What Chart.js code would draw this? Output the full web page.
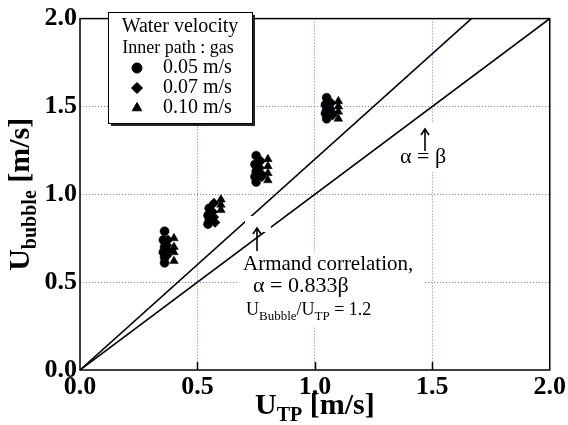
<!DOCTYPE html>
<html>
<head>
<meta charset="utf-8">
<script src="https://cdn.jsdelivr.net/npm/chart.js@4.4.0/dist/chart.umd.min.js"></script>
<style>
  html, body { margin: 0; padding: 0; background: #fff; }
  #wrap { width: 568px; height: 425px; }
</style>
</head>
<body>
<div id="wrap"><canvas id="chart" width="568" height="425"></canvas></div>
<script>
const SERIF = "'Liberation Serif', 'DejaVu Serif', serif";

// Inner path : gas -- measured [U_TP, U_bubble] pairs per water velocity
const gas005 = [
  [0.36, 0.79], [0.355, 0.74], [0.36, 0.70], [0.355, 0.67], [0.36, 0.64], [0.36, 0.61],
  [0.55, 0.92], [0.545, 0.88], [0.55, 0.85], [0.545, 0.83],
  [0.75, 1.22], [0.745, 1.17], [0.75, 1.13], [0.745, 1.10], [0.75, 1.07],
  [1.05, 1.55], [1.045, 1.51], [1.05, 1.48], [1.045, 1.46], [1.05, 1.43]
];
const gas007 = [
  [0.375, 0.74], [0.37, 0.71], [0.375, 0.68], [0.37, 0.65],
  [0.57, 0.95], [0.565, 0.90], [0.57, 0.87], [0.575, 0.84],
  [0.77, 1.19], [0.765, 1.15], [0.77, 1.12], [0.775, 1.10],
  [1.07, 1.52], [1.065, 1.49], [1.07, 1.47], [1.075, 1.45]
];
const gas010 = [
  [0.40, 0.75], [0.40, 0.70], [0.40, 0.67], [0.40, 0.62],
  [0.60, 0.97], [0.60, 0.94], [0.60, 0.91],
  [0.80, 1.20], [0.80, 1.16], [0.80, 1.12], [0.80, 1.08],
  [1.10, 1.53], [1.10, 1.50], [1.10, 1.47], [1.10, 1.43]
];

const seriesLabels = ['0.05 m/s', '0.07 m/s', '0.10 m/s'];
const seriesStyles = ['circle', 'rectRot', 'triangle'];
const seriesRadius = [4.5, 5, 5];

const axisMin = 0;
const axisMax = 2.0;
const tickStep = 0.5;
const armandRatio = 1.2;          // U_Bubble / U_TP
const lineX = [0, axisMax];

const toPoints = arr => arr.map(p => ({ x: p[0], y: p[1] }));
const alphaEqBeta = lineX.map(x => ({ x: x, y: x }));
const armandLine = lineX.map(x => ({ x: x, y: x * armandRatio }));

const gridColor = ctx => {
  const v = ctx.tick ? ctx.tick.value : null;
  return (v === axisMin || v === axisMax) ? 'rgba(0,0,0,0)' : 'rgba(80,80,255,0.8)';
};

function drawArrow(ctx, x, yTail, yHead) {
  ctx.save();
  ctx.strokeStyle = '#000';
  ctx.lineWidth = 1.6;
  ctx.beginPath();
  ctx.moveTo(x, yTail);
  ctx.lineTo(x, yHead);
  ctx.moveTo(x - 4, yHead + 6);
  ctx.lineTo(x, yHead);
  ctx.lineTo(x + 4, yHead + 6);
  ctx.stroke();
  ctx.restore();
}

// text runs: [string, size, baselineShift]
function drawRuns(ctx, runs, x, y, weight) {
  let cx = x;
  runs.forEach(r => {
    ctx.font = `${weight} ${r[1]}px ${SERIF}`;
    ctx.fillText(r[0], cx, y + r[2]);
    cx += ctx.measureText(r[0]).width;
  });
  return cx - x;
}

function runsWidth(ctx, runs, weight) {
  let w = 0;
  runs.forEach(r => {
    ctx.font = `${weight} ${r[1]}px ${SERIF}`;
    w += ctx.measureText(r[0]).width;
  });
  return w;
}

const annotations = {
  id: 'annotations',
  beforeDatasetsDraw(chart) {
    const ctx = chart.ctx;
    ctx.save();
    ctx.fillStyle = '#fff';
    // label backgrounds hide the grid behind the text
    ctx.fillRect(237, 253, 186, 74);
    ctx.fillRect(398, 123, 56, 49);
    ctx.restore();
  },
  afterDatasetsDraw(chart) {
    const ctx = chart.ctx;
    const a = chart.chartArea;
    const xs = chart.scales.x;
    ctx.save();

    // white box behind the Armand arrow
    ctx.fillStyle = '#fff';
    ctx.fillRect(245, 216, 26, 16);

    // plot frame and inward ticks
    ctx.strokeStyle = '#000';
    ctx.lineWidth = 1.5;
    ctx.strokeRect(a.left, a.top, a.right - a.left, a.bottom - a.top);
    ctx.beginPath();
    for (let v = axisMin + tickStep; v < axisMax; v += tickStep) {
      const px = Math.round(xs.getPixelForValue(v)) + 0.5;
      ctx.moveTo(px, a.bottom);
      ctx.lineTo(px, a.bottom - 8);
    }
    ctx.stroke();

    // arrows
    drawArrow(ctx, 425, 151, 129);
    drawArrow(ctx, 257, 251, 228);

    ctx.fillStyle = '#000';
    ctx.textBaseline = 'alphabetic';
    ctx.textAlign = 'left';

    ctx.font = `22px ${SERIF}`;
    ctx.fillText('α = β', 400, 163);

    ctx.font = `21px ${SERIF}`;
    ctx.fillText('Armand correlation,', 243, 270);
    ctx.font = `22px ${SERIF}`;
    ctx.fillText('α = 0.833β', 253, 292);
    drawRuns(ctx, [['U', 18, 0], ['Bubble', 13, 5], ['/U', 18, 0], ['TP', 13, 5], [' = 1.2', 18, 0]], 246, 315, 'normal');

    // legend box with drop shadow
    const lx = 108, ly = 12, lw = 144, lh = 111;
    ctx.fillStyle = '#222';
    ctx.fillRect(lx + 3, ly + 3, lw, lh);
    ctx.fillStyle = '#fff';
    ctx.fillRect(lx, ly, lw, lh);
    ctx.strokeStyle = '#000';
    ctx.lineWidth = 1;
    ctx.strokeRect(lx + 0.5, ly + 0.5, lw, lh);

    ctx.fillStyle = '#000';
    ctx.textAlign = 'center';
    ctx.font = `20px ${SERIF}`;
    ctx.fillText('Water velocity', 180, 32);
    ctx.font = `18px ${SERIF}`;
    ctx.fillText('Inner path : gas', 178, 53);
    ctx.textAlign = 'left';
    ctx.font = `20px ${SERIF}`;
    const rowY = [73, 93, 113];
    seriesLabels.forEach((lab, i) => {
      ctx.fillStyle = '#000';
      ctx.strokeStyle = '#000';
      Chart.helpers.drawPoint(ctx, {
        pointStyle: seriesStyles[i], radius: seriesRadius[i] + 0.5, borderWidth: 1, rotation: 0
      }, 137, rowY[i] - 5);
      ctx.fillText(lab, 163, rowY[i]);
    });

    // axis titles with subscripts
    const xTitle = [['U', 30, 0], ['TP', 20, 7], [' [m/s]', 30, 0]];
    const xw = runsWidth(ctx, xTitle, 'bold');
    drawRuns(ctx, xTitle, (a.left + a.right) / 2 - xw / 2, 414, 'bold');

    const yTitle = [['U', 30, 0], ['bubble', 20, 7], [' [m/s]', 30, 0]];
    const yw = runsWidth(ctx, yTitle, 'bold');
    ctx.save();
    ctx.translate(29, (a.top + a.bottom) / 2);
    ctx.rotate(-Math.PI / 2);
    drawRuns(ctx, yTitle, -yw / 2, 0, 'bold');
    ctx.restore();

    ctx.restore();
  }
};

const pointSets = [gas005, gas007, gas010];

new Chart(document.getElementById('chart'), {
  type: 'scatter',
  data: {
    datasets: [
      ...pointSets.map((set, i) => ({
        label: seriesLabels[i],
        data: toPoints(set),
        pointStyle: seriesStyles[i],
        pointRadius: seriesRadius[i],
        backgroundColor: '#000',
        borderColor: '#000',
        borderWidth: 0.5
      })),
      {
        label: 'α = β',
        data: alphaEqBeta,
        showLine: true,
        pointRadius: 0,
        borderColor: '#000',
        borderWidth: 1.6
      },
      {
        label: 'Armand',
        data: armandLine,
        showLine: true,
        pointRadius: 0,
        borderColor: '#000',
        borderWidth: 1.6
      }
    ]
  },
  options: {
    responsive: false,
    animation: false,
    devicePixelRatio: 1,
    layout: { padding: { left: 0, right: 18, top: 16, bottom: 0 } },
    plugins: {
      legend: { display: false },
      tooltip: { enabled: false }
    },
    scales: {
      x: {
        type: 'linear',
        min: axisMin,
        max: axisMax,
        afterFit: s => { s.height = 55; },
        ticks: {
          stepSize: tickStep,
          padding: 2,
          color: '#000',
          font: { family: SERIF, size: 26, weight: 'bold' },
          callback: v => v.toFixed(1)
        },
        grid: { color: gridColor, lineWidth: 1, drawTicks: false },
        border: { display: false, dash: [1, 2] }
      },
      y: {
        type: 'linear',
        min: axisMin,
        max: axisMax,
        afterFit: s => { s.width = 80; },
        ticks: {
          stepSize: tickStep,
          padding: 3,
          color: '#000',
          font: { family: SERIF, size: 26, weight: 'bold' },
          callback: v => v.toFixed(1)
        },
        grid: { color: gridColor, lineWidth: 1, drawTicks: false },
        border: { display: false, dash: [1, 2] }
      }
    }
  },
  plugins: [annotations]
});
</script>
</body>
</html>
